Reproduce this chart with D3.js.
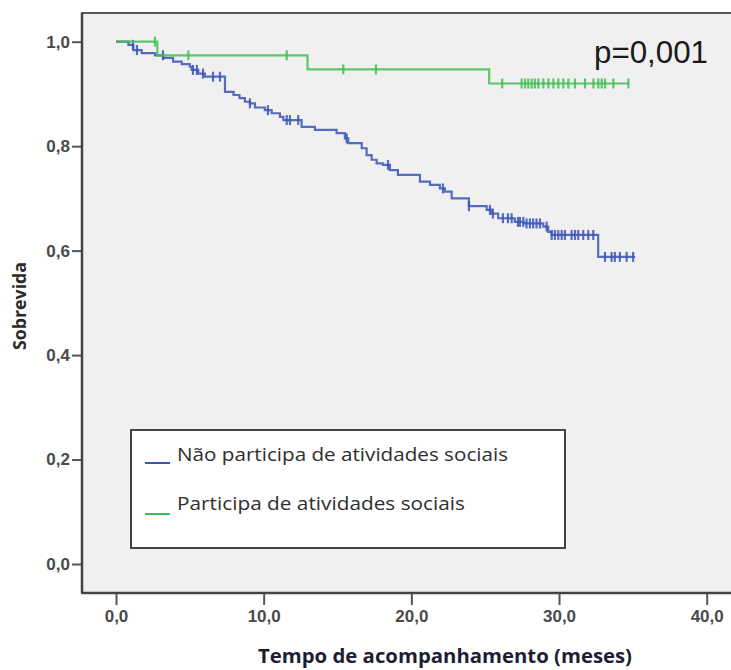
<!DOCTYPE html>
<html>
<head>
<meta charset="utf-8">
<script src="https://cdn.jsdelivr.net/npm/d3@7"></script>
<style>
  html, body { margin: 0; padding: 0; background: #ffffff; }
  svg { display: block; }
</style>
</head>
<body>
<svg id="chart" width="731" height="670"></svg>
<script>
// Kaplan–Meier survival by participation in social activities

// Group labels
const groups = ["Não participa de atividades sociais", "Participa de atividades sociais"];

// Non‑participants: event times (months) and survival after each step
const naoTimes = [0.84, 1.17, 1.74, 2.64, 3.2, 3.87, 4.45, 5.0, 5.12, 5.57, 6.02, 7.38, 7.96, 8.36,
  8.73, 9.07, 9.41, 10.08, 10.54, 11.1, 11.33, 12.57, 13.47, 14.94, 15.5, 15.73, 16.64, 16.97,
  17.31, 17.65, 18.07, 18.55, 19.09, 20.58, 21.26, 21.93, 22.27, 22.73, 23.9, 25.1, 25.44, 25.88,
  27.0, 27.6, 28.93, 29.27, 29.5, 32.65];
const naoSurv = [0.994, 0.984, 0.978, 0.974, 0.969, 0.962, 0.957, 0.952, 0.946, 0.939, 0.933, 0.904,
  0.898, 0.892, 0.885, 0.882, 0.874, 0.869, 0.863, 0.856, 0.850, 0.837, 0.831, 0.825, 0.815, 0.806,
  0.796, 0.783, 0.774, 0.767, 0.764, 0.754, 0.745, 0.732, 0.726, 0.719, 0.713, 0.700, 0.685, 0.678,
  0.671, 0.662, 0.655, 0.652, 0.646, 0.636, 0.630, 0.588];
const naoEnd = 35.15;
// Non‑participants: censored times (months)
const naoCensored = [1.15, 1.42, 3.18, 5.21, 5.48, 5.89, 6.57, 7.04, 9.07, 10.29, 11.56, 11.78, 12.34,
  15.62, 18.42, 22.14, 23.9, 25.32, 25.52, 26.2, 26.54, 26.79, 27.22, 27.35, 27.58, 27.8, 28.03,
  28.25, 28.48, 28.71, 29.16, 29.5, 29.72, 29.95, 30.18, 30.4, 30.85, 31.08, 31.3, 31.64, 31.98,
  32.32, 33.11, 33.56, 33.78, 34.12, 34.58, 35.02];

// Participants: event times (months) and survival after each step
const partTimes = [2.8, 12.97, 25.27];
const partSurv = [0.974, 0.947, 0.920];
const partEnd = 34.7;
// Participants: censored times (months)
const partCensored = [2.64, 4.9, 11.56, 15.39, 17.6, 26.15, 27.47, 27.7, 27.92, 28.15, 28.37, 28.6,
  28.94, 29.28, 29.62, 29.95, 30.29, 30.63, 31.08, 31.76, 32.33, 32.66, 32.89, 33.12, 33.68, 34.7];

// Axis ticks
const xTicks = [0, 10, 20, 30, 40];
const yTicks = [0, 0.2, 0.4, 0.6, 0.8, 1.0];
const pLabel = "p=0,001";

const colors = ["#3b55b6", "#3fbf55"];

const svg = d3.select("#chart");

const frame = { left: 82, top: 13, right: 740, bottom: 593 };
const x = d3.scaleLinear().domain([0, 40]).range([116, 706.7]);
const y = d3.scaleLinear().domain([0, 1]).range([564, 41.7]);

// plot panel
svg.append("rect")
  .attr("x", frame.left).attr("y", frame.top)
  .attr("width", frame.right - frame.left).attr("height", frame.bottom - frame.top)
  .attr("fill", "#f0f0f0")
  .attr("stroke", "#5a5a5a").attr("stroke-width", 2);

const comma = d => d3.format(".1f")(d).replace(".", ",");
const tickFont = "'Liberation Sans Narrow', 'Liberation Sans', Arial, sans-serif";

// y axis
const yAxis = svg.append("g")
  .attr("transform", `translate(${frame.left},0)`)
  .call(d3.axisLeft(y).tickValues(yTicks).tickFormat(comma).tickSize(10).tickPadding(2));
yAxis.select(".domain").remove();
yAxis.selectAll(".tick line").attr("stroke", "#555").attr("stroke-width", 2);
yAxis.selectAll(".tick text")
  .attr("fill", "#4a4a4a").attr("font-family", tickFont)
  .attr("font-size", 17).attr("font-weight", "bold");

// x axis
const xAxis = svg.append("g")
  .attr("transform", `translate(0,${frame.bottom})`)
  .call(d3.axisBottom(x).tickValues(xTicks).tickFormat(comma).tickSize(12).tickPadding(5));
xAxis.select(".domain").remove();
xAxis.selectAll(".tick line").attr("stroke", "#555").attr("stroke-width", 2);
xAxis.selectAll(".tick text")
  .attr("fill", "#4a4a4a").attr("font-family", tickFont)
  .attr("font-size", 17).attr("font-weight", "bold");

// frame edges drawn on top of the panel
svg.append("line").attr("x1", frame.left).attr("x2", frame.left)
  .attr("y1", frame.top).attr("y2", frame.bottom)
  .attr("stroke", "#444").attr("stroke-width", 2.5);
svg.append("line").attr("x1", frame.left).attr("x2", frame.right)
  .attr("y1", frame.bottom).attr("y2", frame.bottom)
  .attr("stroke", "#444").attr("stroke-width", 2.5);

// axis titles
svg.append("text")
  .attr("transform", "translate(26,306) rotate(-90)")
  .attr("text-anchor", "middle")
  .attr("textLength", 88).attr("lengthAdjust", "spacingAndGlyphs")
  .attr("font-family", "'Open Sans', 'DejaVu Sans', sans-serif")
  .attr("font-weight", "bold").attr("font-size", 17)
  .attr("fill", "#2a2a2a")
  .text("Sobrevida");

svg.append("text")
  .attr("x", 258).attr("y", 663)
  .attr("textLength", 374).attr("lengthAdjust", "spacingAndGlyphs")
  .attr("font-family", "'Open Sans', 'DejaVu Sans', sans-serif")
  .attr("font-weight", "bold").attr("font-size", 19)
  .attr("fill", "#1d1d33")
  .text("Tempo de acompanhamento (meses)");

// survival step curves
const stepLine = d3.line()
  .x(d => x(d[0])).y(d => y(d[1]))
  .curve(d3.curveStepAfter);

function km(times, surv, end) {
  const pts = [[0, 1]];
  times.forEach((t, i) => pts.push([t, surv[i]]));
  pts.push([end, surv[surv.length - 1]]);
  return pts;
}
function survAt(times, surv, t) {
  let s = 1;
  times.forEach((ti, i) => { if (ti <= t) s = surv[i]; });
  return s;
}

const series = [
  { times: naoTimes, surv: naoSurv, end: naoEnd, cens: naoCensored, color: colors[0] },
  { times: partTimes, surv: partSurv, end: partEnd, cens: partCensored, color: colors[1] }
];

series.forEach(s => {
  const g = svg.append("g");
  g.append("path")
    .datum(km(s.times, s.surv, s.end))
    .attr("d", stepLine)
    .attr("fill", "none")
    .attr("stroke", s.color).attr("stroke-width", 2.2)
    .attr("stroke-opacity", 0.85);
  g.selectAll("line.cens")
    .data(s.cens)
    .join("line")
    .attr("class", "cens")
    .attr("x1", d => x(d)).attr("x2", d => x(d))
    .attr("y1", d => y(survAt(s.times, s.surv, d)) - 5)
    .attr("y2", d => y(survAt(s.times, s.surv, d)) + 5)
    .attr("stroke", s.color).attr("stroke-width", 2.2)
    .attr("stroke-opacity", 0.85);
});

// p-value
svg.append("text")
  .attr("x", 594).attr("y", 63)
  .attr("textLength", 114).attr("lengthAdjust", "spacingAndGlyphs")
  .attr("font-family", "'Liberation Sans', Arial, sans-serif")
  .attr("font-size", 31)
  .attr("fill", "#1a1a1a")
  .text(pLabel);

// legend
const legend = svg.append("g");
legend.append("rect")
  .attr("x", 131).attr("y", 430).attr("width", 434).attr("height", 118)
  .attr("fill", "#ffffff").attr("stroke", "#444").attr("stroke-width", 2);

const legendRows = [
  { y: 463, textY: 461, width: 331 },
  { y: 514, textY: 510, width: 288 }
];
groups.forEach((name, i) => {
  const r = legendRows[i];
  legend.append("line")
    .attr("x1", 145).attr("x2", 170).attr("y1", r.y).attr("y2", r.y)
    .attr("stroke", colors[i]).attr("stroke-width", 2);
  legend.append("text")
    .attr("x", 177).attr("y", r.textY)
    .attr("textLength", r.width).attr("lengthAdjust", "spacingAndGlyphs")
    .attr("font-family", "'Open Sans', 'DejaVu Sans', sans-serif")
    .attr("font-size", 17.5)
    .attr("fill", "#2e2e2e")
    .text(name);
});
</script>
</body>
</html>
